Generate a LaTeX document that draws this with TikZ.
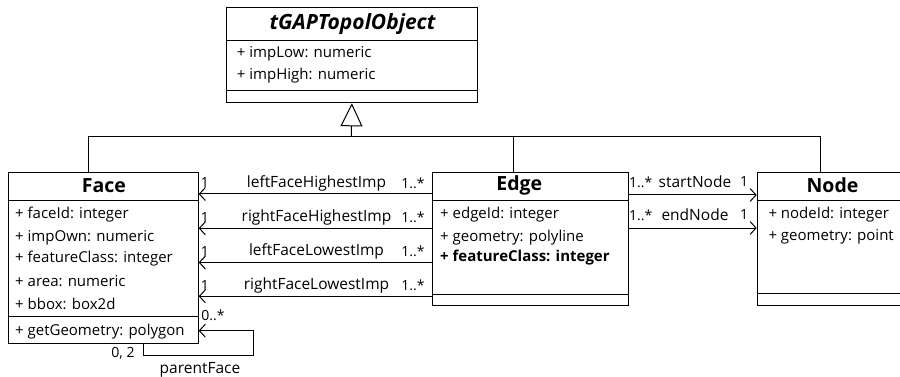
\documentclass[tikz,border=0pt]{standalone}
\usepackage{fontspec}
\setmainfont{Open Sans}
\usetikzlibrary{arrows.meta,positioning}

\tikzset{
  classbox/.style={draw,line width=1pt,anchor=north west,inner sep=0pt},
  ttl/.style={font=\fontsize{19.5}{21}\selectfont\bfseries,inner sep=1pt},
  attr/.style={font=\fontsize{15}{17}\selectfont,anchor=west,inner sep=0pt},
  role/.style={font=\fontsize{15.5}{17}\selectfont,inner sep=0pt},
  mult/.style={font=\fontsize{14}{16}\selectfont,inner sep=0pt},
  assoc/.style={line width=1pt,-{Straight Barb[length=6pt,width=13pt]}},
  inherit/.style={line width=1pt,-{Triangle[open,length=23pt,width=22pt]}}
}

\begin{document}
\begin{tikzpicture}[x=1pt,y=-1pt]
\clip (0,0) rectangle (900,377);

% classes
\node[classbox,minimum width=250.7pt,minimum height=95pt] (topol) at (226,7.3) {};
\node[classbox,minimum width=189.4pt,minimum height=171pt] (face) at (8.3,172.3) {};
\node[classbox,minimum width=196pt,minimum height=133pt] (edge) at (432.3,172.3) {};
\node[classbox,minimum width=150pt,minimum height=132.7pt] (nodebox) at (756.7,172.3) {};

\draw[line width=1pt] (topol.west |- 0,40.7) -- (topol.east |- 0,40.7);
\draw[line width=1pt] (topol.west |- 0,90.7) -- (topol.east |- 0,90.7);
\draw[line width=1pt] (face.west |- 0,200.7) -- (face.east |- 0,200.7);
\draw[line width=1pt] (face.west |- 0,316.7) -- (face.east |- 0,316.7);
\draw[line width=1pt] (edge.west |- 0,200.7) -- (edge.east |- 0,200.7);
\draw[line width=1pt] (edge.west |- 0,294) -- (edge.east |- 0,294);
\draw[line width=1pt] (nodebox.west |- 0,200.3) -- (nodebox.east |- 0,200.3);
\draw[line width=1pt] (nodebox.west |- 0,293.3) -- (nodebox.east |- 0,293.3);

% titles
\node[ttl,font=\fontsize{21}{23}\selectfont\bfseries\itshape] (topolname) at (352.5,24) {tGAPTopolObject};
\node[ttl] (facename) at (104,185.5) {Face};
\node[ttl] (edgename) at (519.3,185.5) {Edge};
\node[ttl] (nodename) at (832.5,185.5) {Node};

% attributes
\node[attr] (impLow) at (236.7,53.3) {+ impLow: numeric};
\node[attr] (impHigh) at (236.7,76) {+ impHigh: numeric};

\node[attr] (faceId) at (15,215) {+ faceId: integer};
\node[attr] (impOwn) at (15,237.3) {+ impOwn: numeric};
\node[attr] (faceClass) at (15,259) {+ featureClass: integer};
\node[attr] (area) at (15,281) {+ area: numeric};
\node[attr] (bbox) at (15,304) {+ bbox: box2d};
\node[attr] (getGeom) at (15,331.7) {+ getGeometry: polygon};

\node[attr] (edgeId) at (440,215) {+ edgeId: integer};
\node[attr] (edgeGeom) at (440,237.3) {+ geometry: polyline};
\node[attr,font=\fontsize{15}{17}\selectfont\bfseries] (edgeClass) at (440,258) {+ featureClass: integer};

\node[attr] (nodeId) at (768.3,215) {+ nodeId: integer};
\node[attr] (nodeGeom) at (768.3,236.7) {+ geometry: point};

% generalisation
\coordinate (bus) at (351.3,136.7);
\draw[inherit] (bus) -- (topol.south);
\draw[line width=1pt] (face.north -| 88,0) -- (88,136.7) -- (820,136.7) -- (nodebox.north -| 820,0);
\draw[line width=1pt] (513,136.7) -- (edge.north -| 513,0);

% edge -> face
\foreach \y/\lbl in {194/leftFaceHighestImp,228.3/rightFaceHighestImp,262.5/leftFaceLowestImp,296.3/rightFaceLowestImp}{
  \draw[assoc] (edge.west |- 0,\y) -- (face.east |- 0,\y);
  \node[mult] (one\lbl) at (205,\y-11) {1};
  \node[role] (role\lbl) at (316.5,\y-11) {\lbl};
  \node[mult] (many\lbl) at (413,\y-11) {1..*};
}

% edge -> node
\draw[assoc] (edge.east |- 0,195) -- (nodebox.west |- 0,195);
\draw[assoc] (edge.east |- 0,228) -- (nodebox.west |- 0,228);
\node[mult] (startmany) at (640.7,182) {1..*};
\node[role] (startrole) at (695,182) {startNode};
\node[mult] (startone) at (744,182) {1};
\node[mult] (endmany) at (640.7,215) {1..*};
\node[role] (endrole) at (695,215) {endNode};
\node[mult] (endone) at (744,215) {1};

% parent face
\draw[assoc] (face.south -| 143.3,0) -- (143.3,355) -- (253,355) -- (253,330.7) -- (face.east |- 0,330.7);
\node[mult] (parentmany) at (213,315) {0..*};
\node[mult] (parentzero) at (123,353) {0, 2};
\node[role] (parentrole) at (200,370) {parentFace};

\end{tikzpicture}
\end{document}
